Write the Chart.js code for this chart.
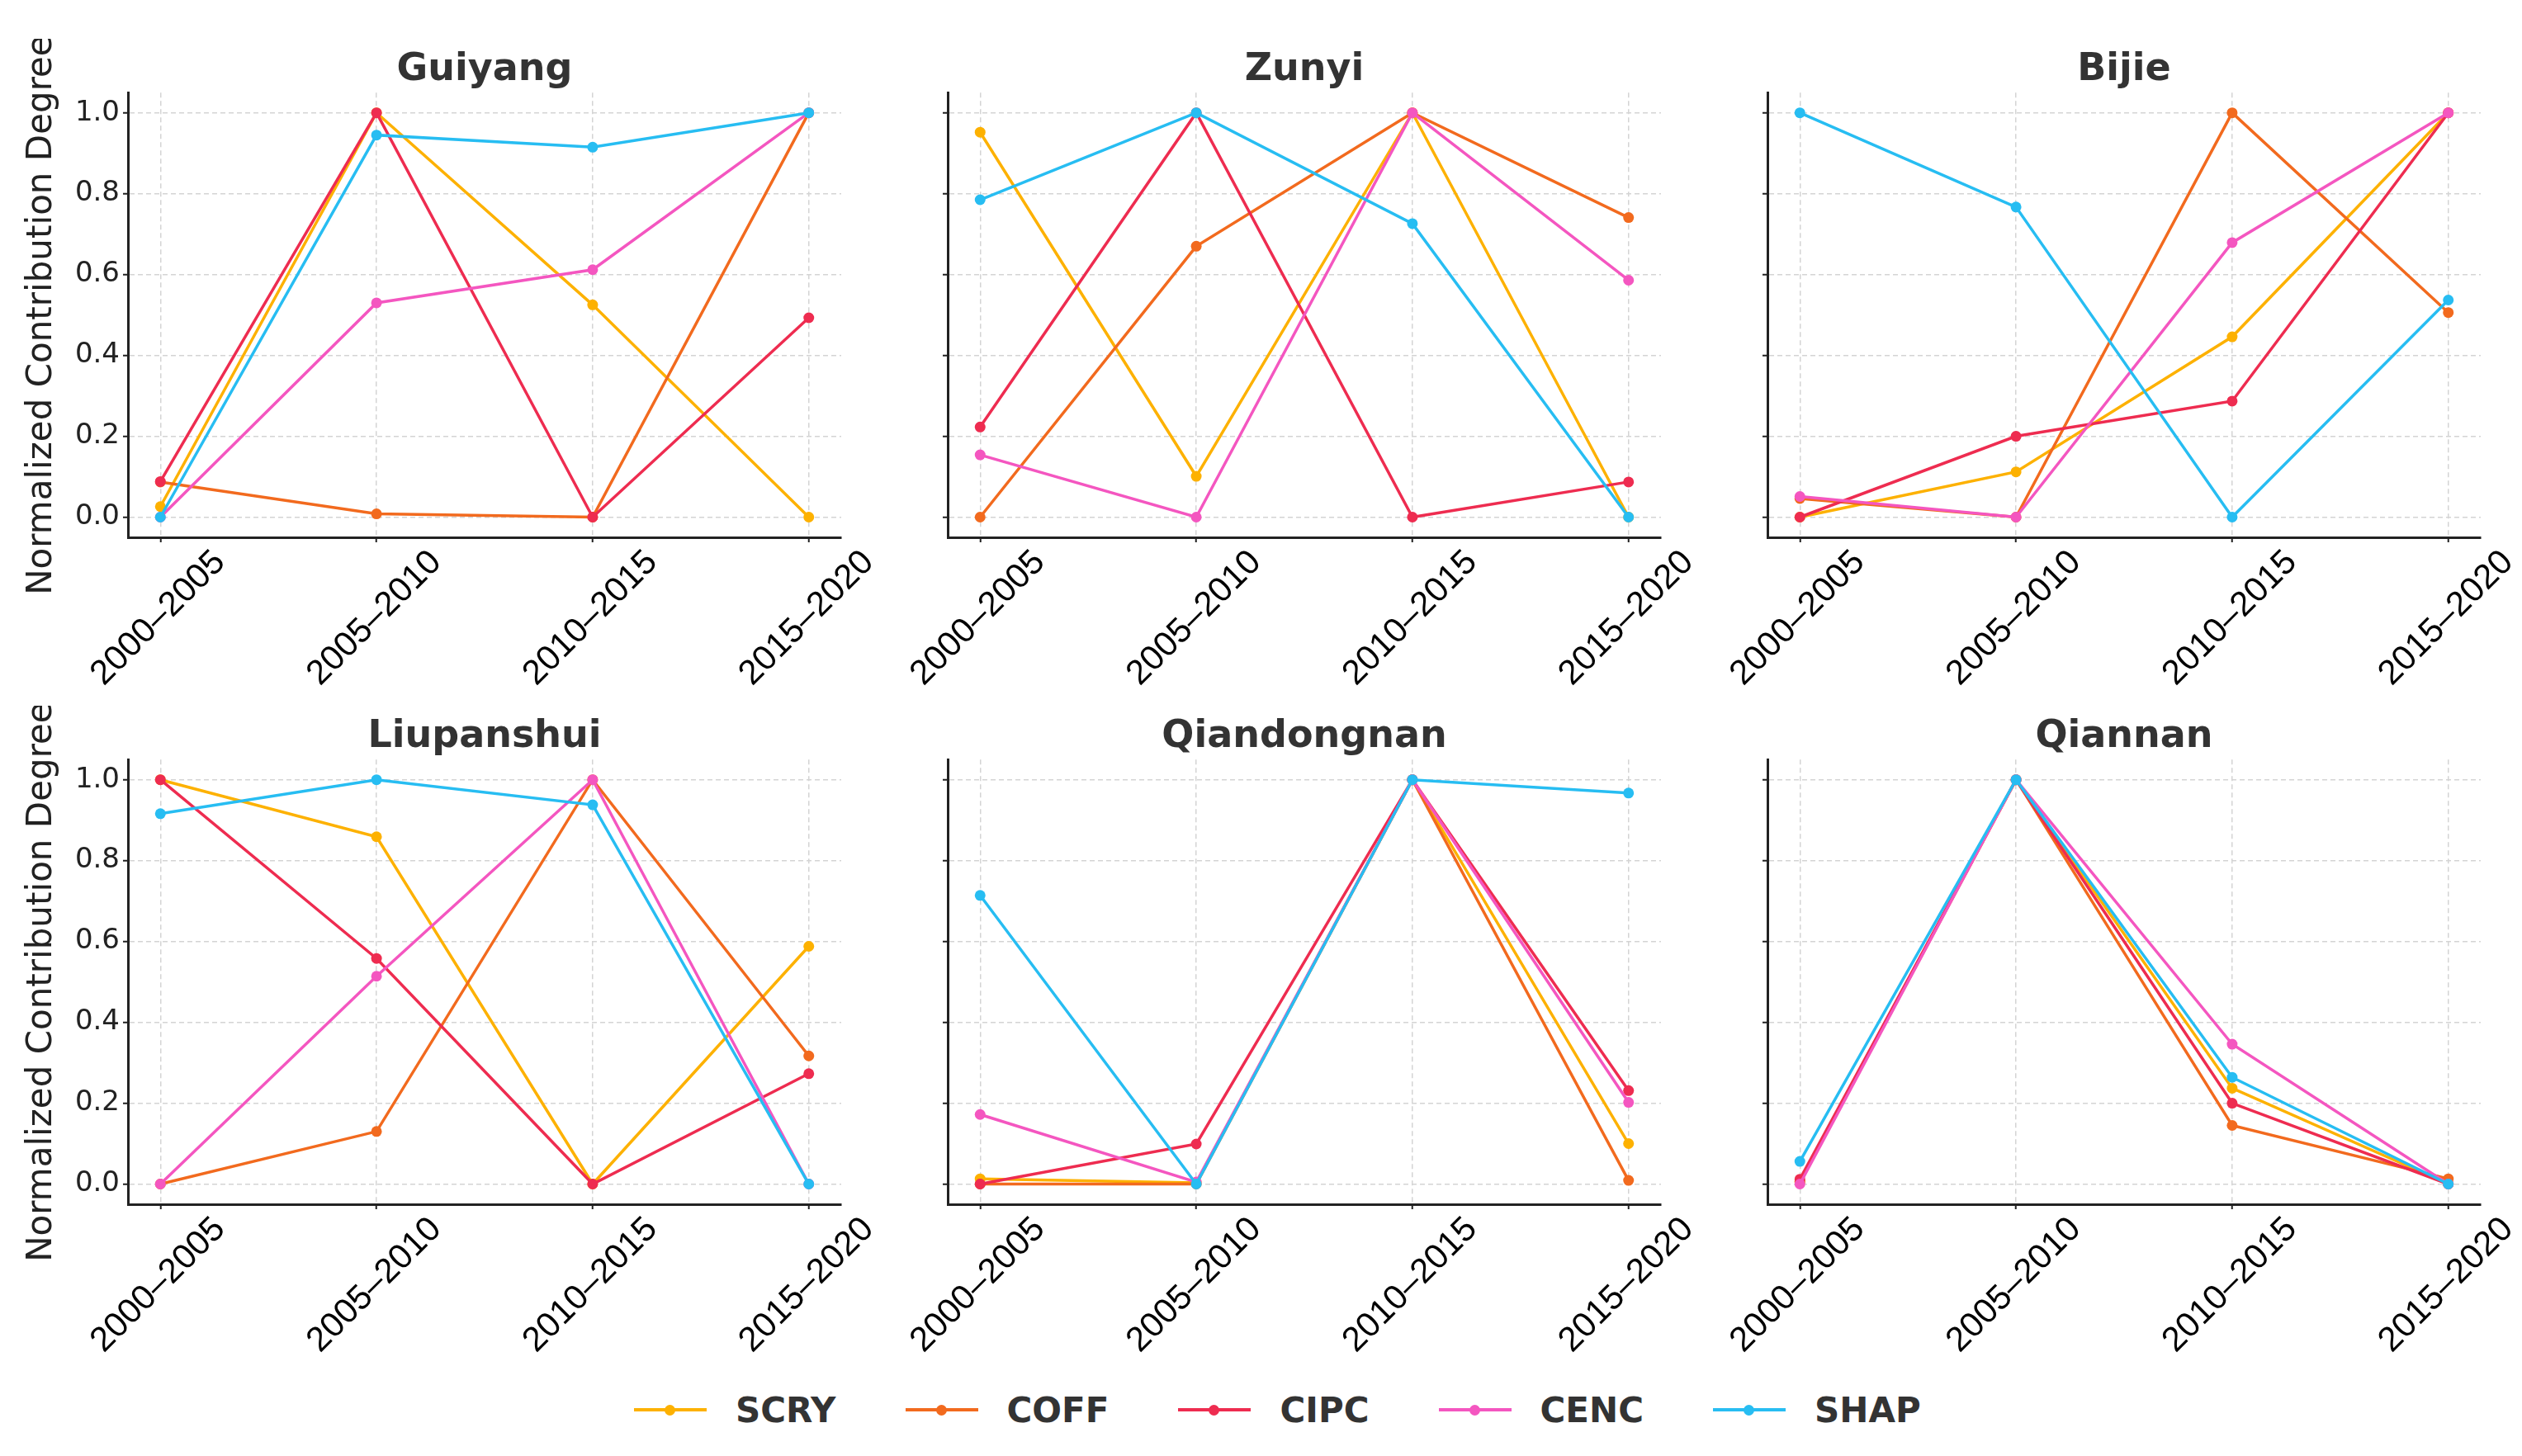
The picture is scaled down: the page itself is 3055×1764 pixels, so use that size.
<!DOCTYPE html>
<html>
<head>
<meta charset="utf-8">
<title>Normalized Contribution Degree</title>
<script src="https://cdn.jsdelivr.net/npm/chart.js@4.4.1/dist/chart.umd.min.js"></script>
<style>
  html, body { margin: 0; padding: 0; background: #fff; }
  body { width: 3055px; height: 1764px; position: relative; overflow: hidden; }
  .panel { position: absolute; width: 1079px; height: 804px; }
  #legend { position: absolute; left: 768px; top: 1684px; height: 48px; display: flex; align-items: center;
            font-family: 'DejaVu Sans'; font-weight: bold; font-size: 42px; color: #333; }
  .item { display: flex; align-items: center; margin-right: 84px; }
  .swatch { position: relative; width: 88px; height: 4px; margin-right: 35px; }
  .swatch i { position: absolute; left: 37px; top: -4.5px; width: 13px; height: 13px; border-radius: 50%; }
</style>
</head>
<body>
<div id="legend"></div>
<script>
// периоды по оси X
let periods = ['2000–2005', '2005–2010', '2010–2015', '2015–2020'];

// показатели и их цвета
let indicators = ['SCRY', 'COFF', 'CIPC', 'CENC', 'SHAP'];
let colors = ['#FDB100', '#F26A1E', '#EE2C50', '#F456C0', '#27BDF2'];

let cities = ['Guiyang', 'Zunyi', 'Bijie', 'Liupanshui', 'Qiandongnan', 'Qiannan'];

// значения: по строке на показатель (SCRY, COFF, CIPC, CENC, SHAP)
let guiyang = [
    [0.026, 1.0, 0.525, 0.0],
    [0.087, 0.008, 0.0, 1.0],
    [0.088, 1.0, 0.0, 0.493],
    [0.0, 0.530, 0.612, 1.0],
    [0.0, 0.945, 0.915, 1.0]
];
let zunyi = [
    [0.952, 0.101, 1.0, 0.0],
    [0.0, 0.670, 1.0, 0.741],
    [0.223, 1.0, 0.0, 0.087],
    [0.154, 0.0, 1.0, 0.586],
    [0.785, 1.0, 0.726, 0.0]
];
let bijie = [
    [0.0, 0.112, 0.446, 1.0],
    [0.046, 0.0, 1.0, 0.506],
    [0.0, 0.200, 0.287, 1.0],
    [0.051, 0.0, 0.679, 1.0],
    [1.0, 0.767, 0.0, 0.537]
];
let liupanshui = [
    [1.0, 0.859, 0.0, 0.588],
    [0.0, 0.130, 1.0, 0.317],
    [1.0, 0.558, 0.0, 0.273],
    [0.0, 0.514, 1.0, 0.0],
    [0.916, 1.0, 0.938, 0.0]
];
let qiandongnan = [
    [0.013, 0.003, 1.0, 0.100],
    [0.0, 0.0, 1.0, 0.009],
    [0.0, 0.099, 1.0, 0.231],
    [0.172, 0.005, 1.0, 0.202],
    [0.714, 0.0, 1.0, 0.967]
];
let qiannan = [
    [0.005, 1.0, 0.237, 0.0],
    [0.005, 1.0, 0.145, 0.013],
    [0.012, 1.0, 0.200, 0.0],
    [0.0, 1.0, 0.346, 0.0],
    [0.056, 1.0, 0.264, 0.0]
];

let cityValues = [guiyang, zunyi, bijie, liupanshui, qiandongnan, qiannan];

let colLeft = [0, 993, 1986];
let rowTop = [47, 855];

let gridColor = '#d4d4d4';
let axisColor = '#222';

function makeDatasets(values){
    let sets = [];
    indicators.forEach(function(name, i){
        sets.push({
            label: name,
            data: values[i].map(function(v, k){ return {x: k, y: v}; }),
            borderColor: colors[i],
            backgroundColor: colors[i],
            borderWidth: 3.5,
            pointRadius: 6.5,
            pointBorderWidth: 0,
            tension: 0,
            order: indicators.length - i // SHAP поверх остальных
        });
    });
    return sets;
}

function makePanel(index){
    let col = index % 3;
    let row = Math.floor(index / 3);
    let box = document.createElement('div');
    box.className = 'panel';
    box.style.left = colLeft[col] + 'px';
    box.style.top = rowTop[row] + 'px';
    let canvas = document.createElement('canvas');
    box.append(canvas);
    document.body.append(box);

    let first = col === 0;
    new Chart(canvas, {
        type: 'line',
        data: { datasets: makeDatasets(cityValues[index]) },
        options: {
            responsive: true,
            maintainAspectRatio: false,
            animation: false,
            layout: { padding: { left: first ? 0 : 145, right: 60, top: 0, bottom: 0 } },
            plugins: {
                legend: { display: false },
                tooltip: { enabled: false },
                title: {
                    display: true,
                    fullSize: false, // центр над областью графика
                    text: cities[index],
                    color: '#333',
                    font: { family: 'DejaVu Sans', size: 46, weight: 'bold' },
                    padding: { top: 10, bottom: 0 }
                }
            },
            scales: {
                x: {
                    type: 'linear',
                    min: -0.15,
                    max: 3.15,
                    afterFit: function(scale){ scale.height = 200; },
                    ticks: {
                        stepSize: 1,
                        includeBounds: false,
                        autoSkip: false,
                        minRotation: 45,
                        maxRotation: 45,
                        labelOffset: 72,
                        padding: 0,
                        color: '#000',
                        font: { family: 'Liberation Sans', size: 42 },
                        callback: function(v){ return periods[v] !== undefined ? periods[v] : ''; }
                    },
                    grid: { color: gridColor, lineWidth: 1.5, tickLength: 6, tickColor: axisColor, tickWidth: 2 },
                    border: { color: axisColor, width: 3, dash: [6, 4] }
                },
                y: {
                    min: -0.05,
                    max: 1.05,
                    afterFit: function(scale){ scale.width = first ? 155 : 10; },
                    ticks: {
                        stepSize: 0.2,
                        includeBounds: false,
                        display: first,
                        padding: 4,
                        color: '#222',
                        font: { family: 'DejaVu Sans', size: 34 },
                        callback: function(v){ return v.toFixed(1); }
                    },
                    title: {
                        display: first,
                        text: 'Normalized Contribution Degree',
                        color: '#222',
                        font: { family: 'DejaVu Sans', size: 42 },
                        padding: { top: 26, bottom: 0 }
                    },
                    grid: { color: gridColor, lineWidth: 1.5, tickLength: 6, tickColor: axisColor, tickWidth: 2 },
                    border: { color: axisColor, width: 3, dash: [6, 4] }
                }
            }
        }
    });
}

function buildLegend(){
    let legend = document.getElementById('legend');
    indicators.forEach(function(name, i){
        let item = document.createElement('div');
        item.className = 'item';
        let swatch = document.createElement('span');
        swatch.className = 'swatch';
        swatch.style.background = colors[i];
        let dot = document.createElement('i');
        dot.style.background = colors[i];
        swatch.append(dot);
        let text = document.createElement('span');
        text.textContent = name;
        item.append(swatch);
        item.append(text);
        legend.append(item);
    });
}

cities.forEach(function(name, i){ makePanel(i); });
buildLegend();
</script>
</body>
</html>
